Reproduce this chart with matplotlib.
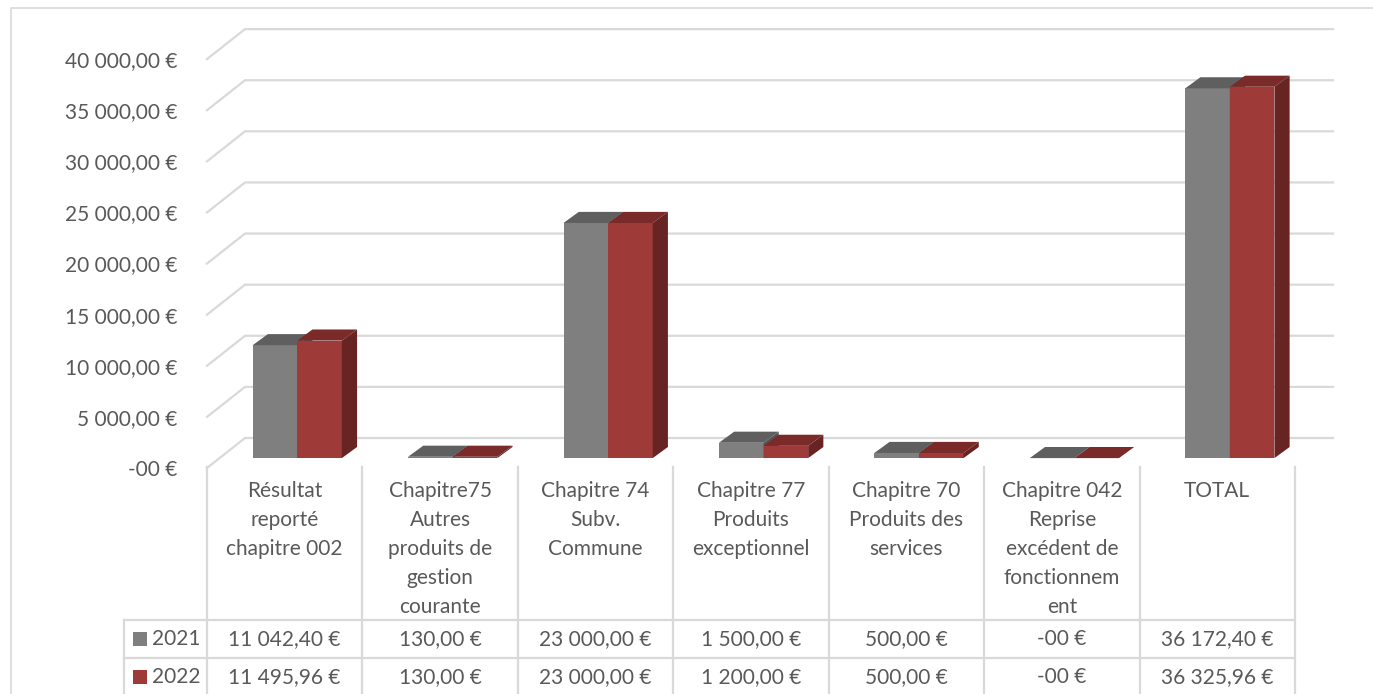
import matplotlib.pyplot as plt
from matplotlib.patches import Polygon, Rectangle
from matplotlib.lines import Line2D
from matplotlib.transforms import blended_transform_factory

categories = [
    "Résultat\nreporté\nchapitre 002",
    "Chapitre75\nAutres\nproduits de\ngestion\ncourante",
    "Chapitre 74\nSubv.\nCommune",
    "Chapitre 77\nProduits\nexceptionnel",
    "Chapitre 70\nProduits des\nservices",
    "Chapitre 042\nReprise\nexcédent de\nfonctionnem\nent",
    "TOTAL",
]
years = ["2021", "2022"]
values_2021 = [11042.40, 130.00, 23000.00, 1500.00, 500.00, 0.00, 36172.40]
values_2022 = [11495.96, 130.00, 23000.00, 1200.00, 500.00, 0.00, 36325.96]
yticks = [0, 5000, 10000, 15000, 20000, 25000, 30000, 35000, 40000]

front_colors = ["#7f7f7f", "#9e3a38"]
top_colors = ["#5f5f5f", "#7a2a28"]
side_colors = ["#555555", "#682422"]
grid_color = "#d9d9d9"
text_color = "#595959"
fs = 15

plt.rcParams["font.family"] = ["Lato", "DejaVu Sans"]


def euro(v):
    if v == 0:
        return "-00 €"
    s = f"{v:,.2f}".replace(",", " ").replace(".", ",")
    return s + " €"


W, H = 1373, 694
fig = plt.figure(figsize=(W / 100, H / 100), dpi=100)


def fx(p):
    return p / W


def fy(p):
    return 1 - p / H


# front plane of the plot box
ax = fig.add_axes([fx(207), fy(468), fx(1295) - fx(207), fy(8) - fy(468)])
ax.set_xlim(-0.5, 6.5)
ax.set_ylim(0, 45000)
for s in ax.spines.values():
    s.set_visible(False)
ax.set_xticks([])
ax.set_yticks(yticks)
ax.set_yticklabels([euro(v) for v in yticks])
ax.tick_params(axis="y", length=0, pad=21, labelsize=fs, labelcolor=text_color)

# depth of the 3d box, in data units
DX = 38 / (1088 / 7)
DY = 30 * 45000 / 460

# gridlines on the back wall with the slanted edge on the left
for v in yticks:
    ax.plot([-0.5, -0.5 + DX, 6.5 + DX], [v, v + DY, v + DY],
            color=grid_color, lw=1.6, clip_on=False, zorder=1)

# bars sit a third of the way into the box
bw = 0.287
bdx, bdy = 0.40 * DX, 0.37 * DY
base = 0.33 * DY
n = len(categories)
for k, vals in enumerate([values_2021, values_2022]):
    lefts = [i + 0.33 * DX - bw + k * bw for i in range(n)]
    ax.bar(lefts, vals, width=bw, bottom=base, align="edge",
           color=front_colors[k], zorder=3 + k, clip_on=False)
    for x0, v in zip(lefts, vals):
        top = base + v
        ax.add_patch(Polygon([(x0, top), (x0 + bw, top), (x0 + bw + bdx, top + bdy),
                              (x0 + bdx, top + bdy)], closed=True,
                             facecolor=top_colors[k], edgecolor="none", zorder=3 + k))
        ax.add_patch(Polygon([(x0 + bw, base), (x0 + bw + bdx, base + bdy),
                              (x0 + bw + bdx, top + bdy), (x0 + bw, top)], closed=True,
                             facecolor=side_colors[k], edgecolor="none", zorder=3 + k))

# data table under the plot
tr = blended_transform_factory(ax.transData, fig.transFigure)
line_kw = dict(color=grid_color, lw=1.6)
for b in [i - 0.5 for i in range(n + 1)]:
    fig.add_artist(Line2D([b, b], [fy(467), fy(H + 2)], transform=tr, **line_kw))
for yp in [620, 658]:
    fig.add_artist(Line2D([fx(124), fx(1295)], [fy(yp), fy(yp)], **line_kw))
fig.add_artist(Line2D([fx(124), fx(124)], [fy(620), fy(H + 2)], **line_kw))

for i, cat in enumerate(categories):
    ax.text(i, fy(481), cat, transform=tr, ha="center", va="top",
            fontsize=fs, color=text_color, linespacing=1.57)

row_y = [639, 677]
for k, vals in enumerate([values_2021, values_2022]):
    for i, v in enumerate(vals):
        ax.text(i, fy(row_y[k]), euro(v), transform=tr, ha="center", va="center",
                fontsize=fs, color=text_color)
    fig.add_artist(Rectangle((fx(133), fy(row_y[k] + 7)), fx(14), 14 / H,
                             facecolor=front_colors[k], edgecolor="none"))
    fig.text(fx(152), fy(row_y[k]), years[k], ha="left", va="center",
             fontsize=fs, color=text_color)

# chart area border
fig.add_artist(Line2D([fx(11), fx(11), fx(W)], [fy(H), fy(8), fy(8)],
                      color=grid_color, lw=1.2))

fig.savefig("out.png", dpi=100, facecolor="white")
